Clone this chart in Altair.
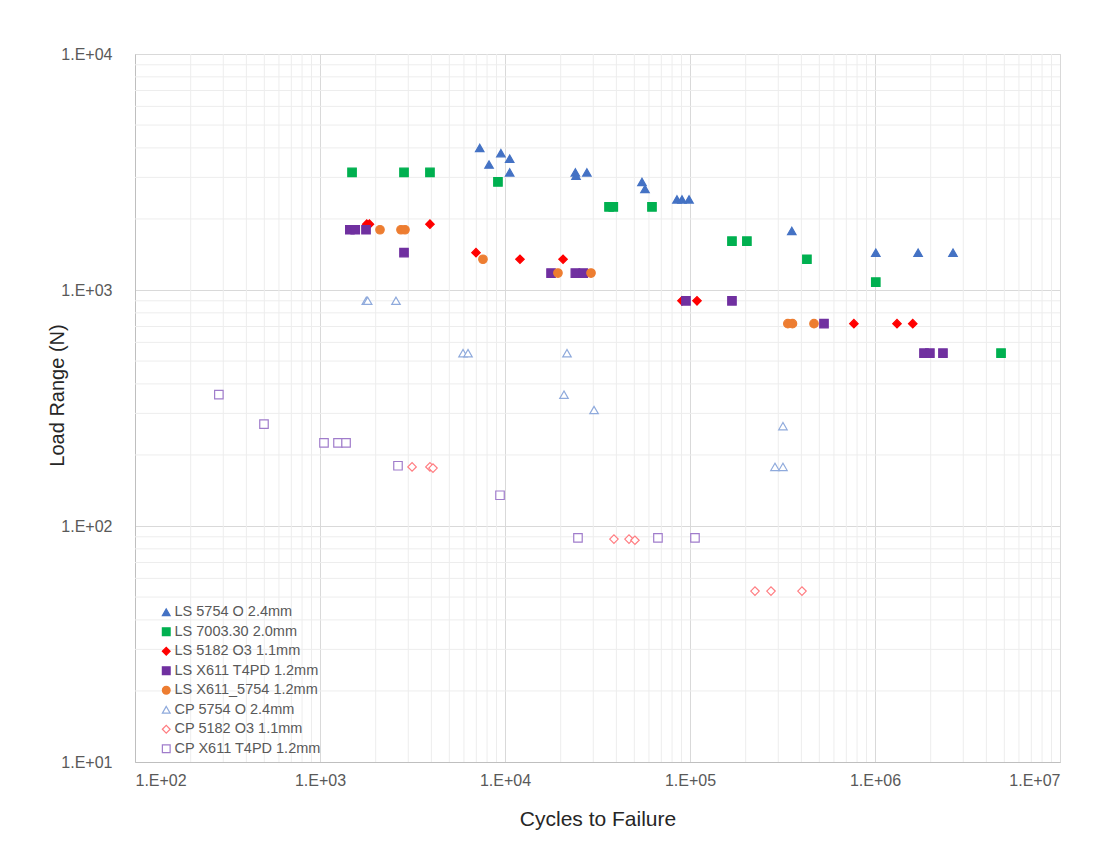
import altair as alt
import pandas as pd

series_names = [
    "LS 5754 O 2.4mm",
    "LS 7003.30 2.0mm",
    "LS 5182 O3 1.1mm",
    "LS X611 T4PD 1.2mm",
    "LS X611_5754 1.2mm",
    "CP 5754 O 2.4mm",
    "CP 5182 O3 1.1mm",
    "CP X611 T4PD 1.2mm",
]

ls5754_x = [7300, 8200, 9500, 10600, 10600, 24000, 24200, 27700, 55000, 57100, 85000, 90500, 98800, 355000, 1010000, 1710000, 2640000]
ls5754_y = [4000, 3400, 3800, 3600, 3150, 3150, 3050, 3150, 2870, 2680, 2420, 2420, 2420, 1780, 1440, 1440, 1440]

ls7003_x = [1490, 2845, 3930, 9160, 36500, 38500, 62300, 168600, 203000, 428500, 1010000, 4800000]
ls7003_y = [3150, 3150, 3150, 2870, 2250, 2250, 2250, 1610, 1610, 1350, 1080, 540]

ls5182_x = [1790, 1850, 3930, 6970, 12050, 20600, 90500, 109100, 769000, 1315000, 1600000]
ls5182_y = [1900, 1900, 1900, 1440, 1350, 1350, 900, 900, 720, 720, 720]

lsx611_x = [1450, 1550, 1773, 2845, 17740, 24000, 26500, 95100, 168600, 530000, 1840000, 1980000, 2330000]
lsx611_y = [1800, 1800, 1800, 1440, 1180, 1180, 1180, 900, 900, 720, 540, 540, 540]

lsx5754_x = [2110, 2740, 2880, 7600, 19330, 29170, 338000, 358000, 468000]
lsx5754_y = [1800, 1800, 1800, 1350, 1180, 1180, 720, 720, 720]

cp5754_x = [1780, 1810, 2575, 5930, 6310, 21630, 20840, 30300, 318000, 288000, 318000]
cp5754_y = [900, 900, 900, 540, 540, 540, 360, 310, 265, 178, 178]

cp5182_x = [3145, 3930, 4080, 38800, 46800, 50400, 224500, 274000, 403000]
cp5182_y = [178, 178, 176, 88, 88, 87, 53, 53, 53]

cpx611_x = [284, 498, 1051, 1251, 1383, 2640, 9400, 24800, 67100, 106400]
cpx611_y = [360, 270, 225, 225, 225, 180, 135, 89, 89, 89]

stroke_colors = ["#4472C4", "#00B050", "#FF0000", "#7030A0", "#ED7D31", "#8FAADC", "#FF7C80", "#A07CCB"]
fill_colors = ["#4472C4", "#00B050", "#FF0000", "#7030A0", "#ED7D31", "white", "white", "white"]
shapes = ["triangle-up", "square", "diamond", "square", "circle", "triangle-up", "diamond", "square"]

major_x = [1e2, 1e3, 1e4, 1e5, 1e6, 1e7]
major_y = [1e1, 1e2, 1e3, 1e4]
minor_x = [k * 10 ** e for e in range(2, 7) for k in range(2, 10)]
minor_y = [k * 10 ** e for e in range(1, 4) for k in range(2, 10)]

all_x = [ls5754_x, ls7003_x, ls5182_x, lsx611_x, lsx5754_x, cp5754_x, cp5182_x, cpx611_x]
all_y = [ls5754_y, ls7003_y, ls5182_y, lsx611_y, lsx5754_y, cp5754_y, cp5182_y, cpx611_y]

rows = []
for name, xs, ys in zip(series_names, all_x, all_y):
    for xv, yv in zip(xs, ys):
        rows.append({"series": name, "cycles": xv, "load": yv})
df = pd.DataFrame(rows)

FONT = "Liberation Sans"
x_scale = alt.Scale(type="log", domain=[1e2, 1e7], nice=False)
y_scale = alt.Scale(type="log", domain=[1e1, 1e4], nice=False)

label_expr = "'1.E+' + format(round(log(datum.value)/LN10), '02d')"

x_axis = alt.Axis(
    title="Cycles to Failure",
    values=major_x,
    labelExpr=label_expr,
    grid=True,
    gridColor="#D9D9D9",
    ticks=False,
    domainColor="#BFBFBF",
    labelPadding=10,
    labelFont=FONT,
    labelFontSize=16,
    labelColor="#595959",
    titleFont=FONT,
    titleFontSize=21,
    titleFontWeight="normal",
    titleColor="#262626",
    titlePadding=20,
)
y_axis = alt.Axis(
    title="Load Range (N)",
    values=major_y,
    labelExpr=label_expr,
    grid=True,
    gridColor="#D9D9D9",
    ticks=False,
    domainColor="#BFBFBF",
    labelPadding=23,
    labelFont=FONT,
    labelFontSize=16,
    labelColor="#595959",
    titleFont=FONT,
    titleFontSize=20,
    titleFontWeight="normal",
    titleColor="#262626",
    titleX=-68,
    titleY=341,
)

grid_x = alt.Chart(pd.DataFrame({"v": minor_x})).mark_rule(color="#EDEDED", strokeWidth=1).encode(
    x=alt.X("v:Q", scale=x_scale, axis=x_axis)
)
grid_y = alt.Chart(pd.DataFrame({"v": minor_y})).mark_rule(color="#EDEDED", strokeWidth=1).encode(
    y=alt.Y("v:Q", scale=y_scale, axis=y_axis)
)

legend = alt.Legend(
    title=None,
    orient="none",
    legendX=24,
    legendY=551,
    labelFont=FONT,
    labelFontSize=14.5,
    labelColor="#595959",
    symbolSize=60,
    symbolStrokeWidth=1.2,
    rowPadding=4.5,
    labelOffset=1,
)

points = alt.Chart(df).mark_point(opacity=1, fillOpacity=1, strokeWidth=1.2, size=72).encode(
    x=alt.X("cycles:Q", scale=x_scale, axis=x_axis),
    y=alt.Y("load:Q", scale=y_scale, axis=y_axis),
    shape=alt.Shape("series:N", scale=alt.Scale(domain=series_names, range=shapes), legend=legend),
    stroke=alt.Stroke("series:N", scale=alt.Scale(domain=series_names, range=stroke_colors), legend=legend),
    fill=alt.Fill("series:N", scale=alt.Scale(domain=series_names, range=fill_colors), legend=legend),
    order=alt.Order("series:N"),
)

chart = alt.layer(grid_x, grid_y, points).properties(
    width=925,
    height=708,
    autosize=alt.AutoSizeParams(type="none"),
    padding={"left": 127, "top": 46, "right": 40, "bottom": 75},
).configure_view(stroke=None).configure(background="white")

chart.save("out.html", embed_options={"renderer": "svg", "actions": False})
